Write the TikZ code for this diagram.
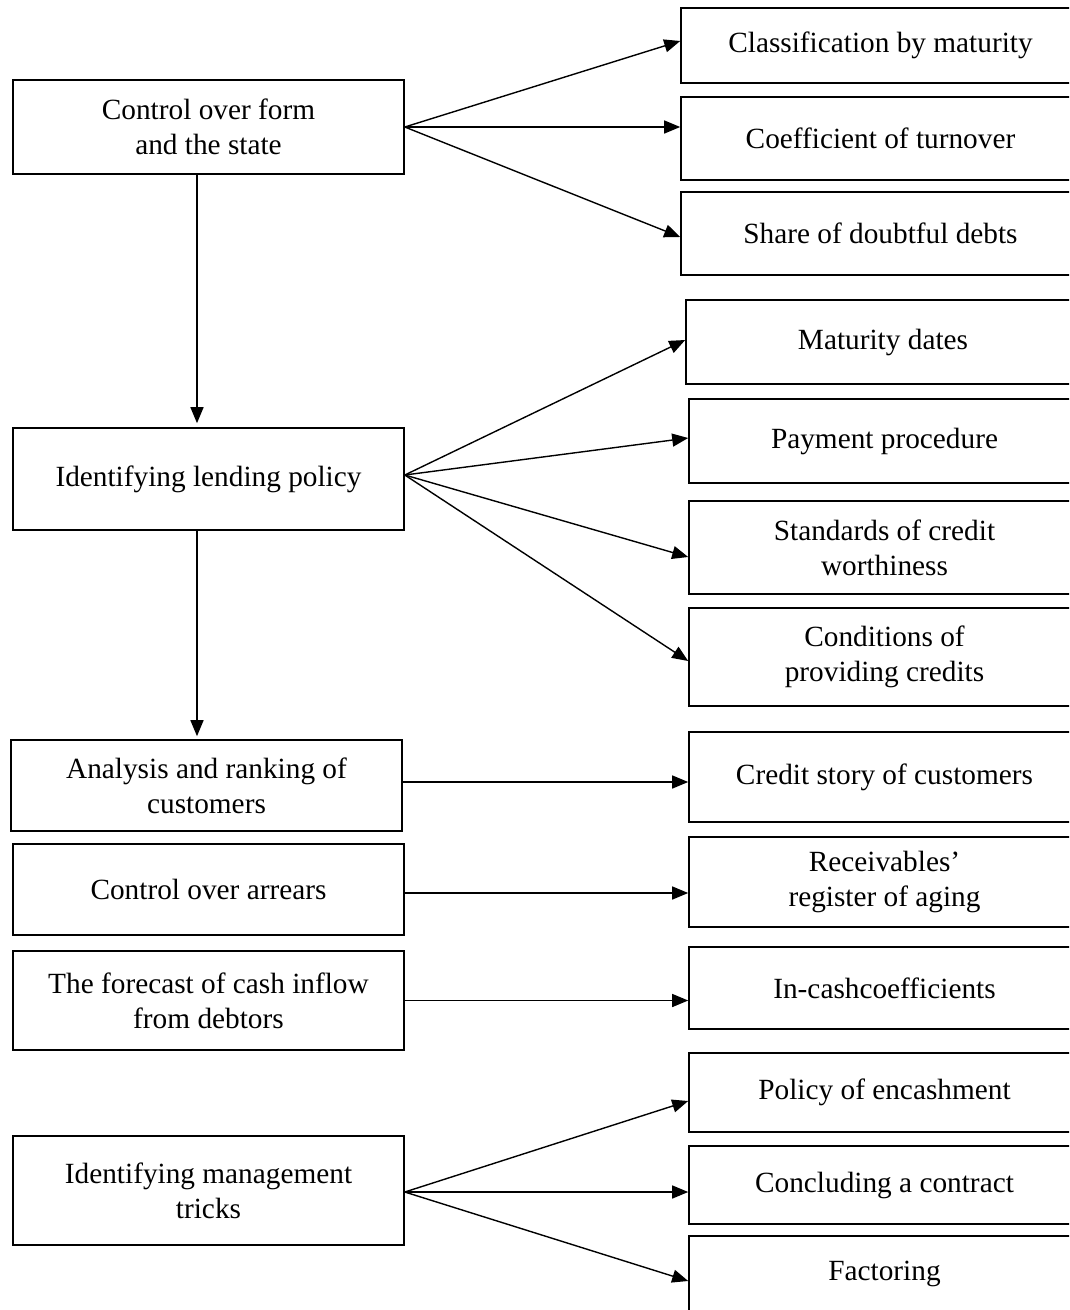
\documentclass[tikz,border=0pt]{standalone}
\usepackage{fontspec}
\setmainfont{Liberation Serif}
\usetikzlibrary{arrows.meta,calc}
\begin{document}
\begin{tikzpicture}[x=1pt,y=-1pt,
  box/.style={draw=black, line width=1.6pt, rectangle, inner sep=0pt, align=center,
    font=\fontsize{29.3}{35}\selectfont},
  arr/.style={line width=1.4pt, -{Triangle[length=16pt,width=13pt]}}]
\useasboundingbox (0,0) rectangle (1069,1310);
\clip (0,0) rectangle (1069,1310);
% left column
\node[box, minimum width=391pt, minimum height=94pt]  (L1) at (208.5,127)   {Control over form\\and the state};
\node[box, minimum width=391pt, minimum height=102pt] (L2) at (208.5,479)   {Identifying lending policy};
\node[box, minimum width=391pt, minimum height=91pt]  (L3) at (206.5,785.5) {Analysis and ranking of\\customers};
\node[box, minimum width=391pt, minimum height=91pt]  (L4) at (208.5,889.5) {Control over arrears};
\node[box, minimum width=391pt, minimum height=99pt]  (L5) at (208.5,1000.5){The forecast of cash inflow\\from debtors};
\node[box, minimum width=391pt, minimum height=109pt] (L6) at (208.5,1190.5){Identifying management\\tricks};
% right column
\node[box, minimum width=399pt, minimum height=75pt] (R1) at (880.5,45.5)  {Classification by maturity};
\node[box, minimum width=399pt, minimum height=83pt] (R2) at (880.5,138.5) {Coefficient of turnover};
\node[box, minimum width=399pt, minimum height=83pt] (R3) at (880.5,233.5) {Share of doubtful debts};
\node[box, minimum width=394pt, minimum height=84pt] (R4) at (883,342)     {Maturity dates};
\node[box, minimum width=391pt, minimum height=84pt] (R5) at (884.5,441)   {Payment procedure};
\node[box, minimum width=391pt, minimum height=93pt] (R6) at (884.5,547.5) {Standards of credit\\worthiness};
\node[box, minimum width=391pt, minimum height=98pt] (R7) at (884.5,657)   {Conditions of\\providing credits};
\node[box, minimum width=391pt, minimum height=90pt] (R8) at (884.5,777)   {Credit story of customers};
\node[box, minimum width=391pt, minimum height=90pt] (R9) at (884.5,882)   {Receivables'\\register of aging};
\node[box, minimum width=391pt, minimum height=82pt] (R10) at (884.5,988)  {In-cashcoefficients};
\node[box, minimum width=391pt, minimum height=79pt] (R11) at (884.5,1092.5){Policy of encashment};
\node[box, minimum width=391pt, minimum height=78pt] (R12) at (884.5,1185) {Concluding a contract};
\node[box, minimum width=391pt, minimum height=76pt] (R13) at (884.5,1274) {Factoring};
% vertical arrows
\draw[arr, shorten >=4pt] ([xshift=-11.5pt]L1.south) -- ([xshift=-11.5pt]L2.north);
\draw[arr, shorten >=3pt] ([xshift=-11.5pt]L2.south) -- ([xshift=-11.5pt]L2.south |- L3.north);
% fan from L1
\draw[arr] (L1.east) -- ([yshift=4.5pt]R1.west);
\draw[arr] (L1.east) -- (L1.east -| R2.west);
\draw[arr] (L1.east) -- ([yshift=-3.5pt]R3.west);
% fan from L2
\draw[arr] ([yshift=4pt]L2.east) -- ([yshift=2pt]R4.west);
\draw[arr] ([yshift=4pt]L2.east) -- ([yshift=3pt]R5.west);
\draw[arr] ([yshift=4pt]L2.east) -- ([yshift=-9.5pt]R6.west);
\draw[arr] ([yshift=4pt]L2.east) -- ([yshift=-4pt]R7.west);
% horizontal
\draw[arr] ([yshift=3.5pt]L3.east) -- ([yshift=3.5pt]L3.east -| R8.west);
\draw[arr] ([yshift=-3.5pt]L4.east) -- ([yshift=-3.5pt]L4.east -| R9.west);
\draw[arr] (L5.east) -- (L5.east -| R10.west);
% fan from L6
\draw[arr] ([yshift=-1.5pt]L6.east) -- ([yshift=-8.5pt]R11.west);
\draw[arr] ([yshift=-1.5pt]L6.east) -- ([yshift=-1.5pt]L6.east -| R12.west);
\draw[arr] ([yshift=-1.5pt]L6.east) -- ([yshift=-7pt]R13.west);
\end{tikzpicture}
\end{document}
